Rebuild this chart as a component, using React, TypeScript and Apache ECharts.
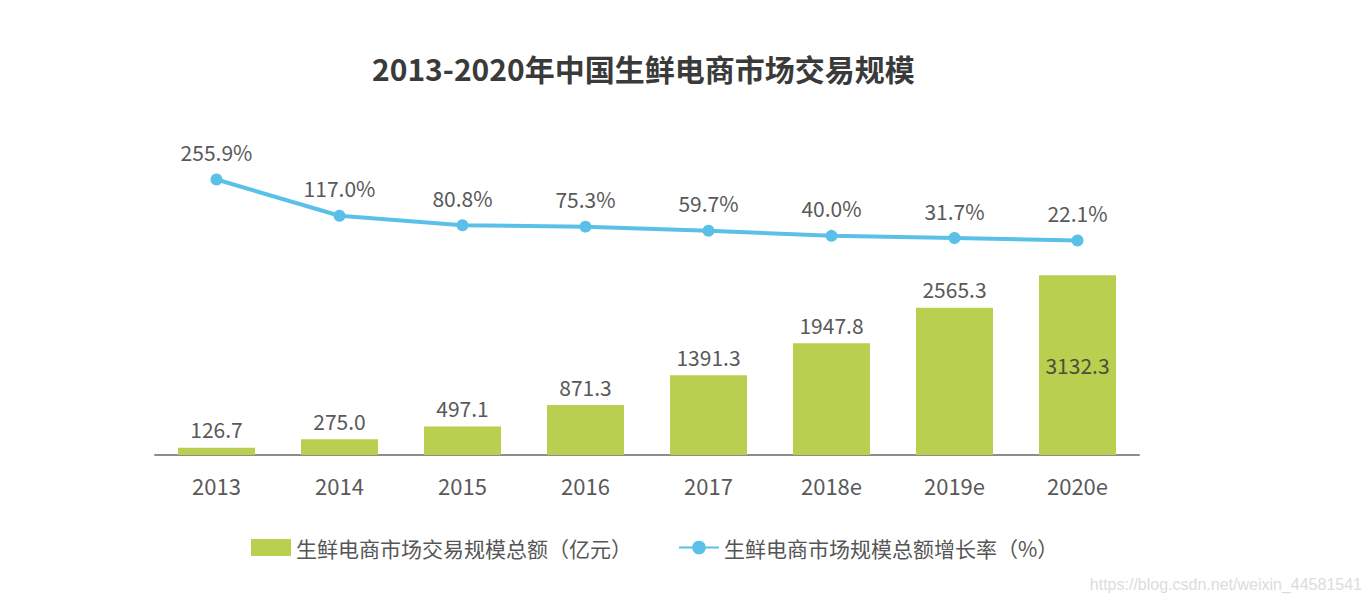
import React, { useEffect, useRef } from "react";
import * as echarts from "echarts";

const categories = ["2013", "2014", "2015", "2016", "2017", "2018e", "2019e", "2020e"];
const marketSize = [126.7, 275.0, 497.1, 871.3, 1391.3, 1947.8, 2565.3, 3132.3];
const growthRate = [255.9, 117.0, 80.8, 75.3, 59.7, 40.0, 31.7, 22.1];
const barName = "生鲜电商市场交易规模总额（亿元）";
const lineName = "生鲜电商市场规模总额增长率（%）";
const titleText = "2013-2020年中国生鲜电商市场交易规模";
const watermark = "https://blog.csdn.net/weixin_44581541";

const FONT = "'Noto Sans CJK SC', 'Noto Sans', sans-serif";

export default function App() {
  const ref = useRef<HTMLDivElement>(null);
  useEffect(() => {
    document.body.style.margin = "0";
    if (!ref.current) return;
    const chart = echarts.init(ref.current, null, { renderer: "svg" });
    const lastIdx = marketSize.length - 1;
    chart.setOption({
      animation: false,
      backgroundColor: "#ffffff",
      textStyle: { fontFamily: FONT },
      title: {
        text: titleText,
        left: 367,
        top: 48,
        textStyle: { fontSize: 30, fontWeight: "bold", color: "#3a3a3a", fontFamily: FONT },
      },
      legend: {
        left: 246,
        top: 532,
        itemWidth: 40,
        itemHeight: 17,
        itemGap: 46,
        textStyle: { fontSize: 21, color: "#555555", fontFamily: FONT },
        data: [
          { name: barName, icon: "rect" },
          { name: lineName },
        ],
      },
      grid: { left: 155, width: 984, top: 168, height: 287 },
      xAxis: {
        type: "category",
        data: categories,
        axisLine: { lineStyle: { color: "#8c8c8c", width: 2 } },
        axisTick: { show: false },
        axisLabel: { fontSize: 22, color: "#595959", margin: 19, fontFamily: FONT },
      },
      yAxis: [
        { type: "value", min: 0, max: 5000, show: false, splitLine: { show: false } },
        { type: "value", min: -800, max: 300, show: false, splitLine: { show: false } },
      ],
      series: [
        {
          name: barName,
          type: "bar",
          yAxisIndex: 0,
          barWidth: 77,
          itemStyle: { color: "#b8cf4f" },
          data: marketSize.map((v, i) => ({
            value: v,
            label:
              i === lastIdx
                ? { show: true, position: "inside", color: "#4d4d3a", fontSize: 21 }
                : undefined,
          })),
          label: {
            show: true,
            position: "top",
            distance: 8,
            fontSize: 21,
            color: "#595959",
            fontFamily: FONT,
            formatter: (p: any) => Number(p.value).toFixed(1),
          },
        },
        {
          name: lineName,
          type: "line",
          yAxisIndex: 1,
          data: growthRate,
          symbol: "circle",
          symbolSize: 12,
          lineStyle: { color: "#5bc0e8", width: 4 },
          itemStyle: { color: "#5bc0e8" },
          label: {
            show: true,
            position: "top",
            distance: 11,
            fontSize: 21,
            color: "#595959",
            fontFamily: FONT,
            formatter: (p: any) => Number(p.value).toFixed(1) + "%",
          },
        },
      ],
      graphic: [
        {
          type: "text",
          right: 4,
          top: 576,
          style: { text: watermark, fontSize: 16, fill: "#dcdcdc", fontFamily: "'Liberation Sans', Arial, sans-serif" },
        },
      ],
    });
    return () => chart.dispose();
  }, []);
  return <div ref={ref} style={{ width: 1366, height: 604 }} />;
}
